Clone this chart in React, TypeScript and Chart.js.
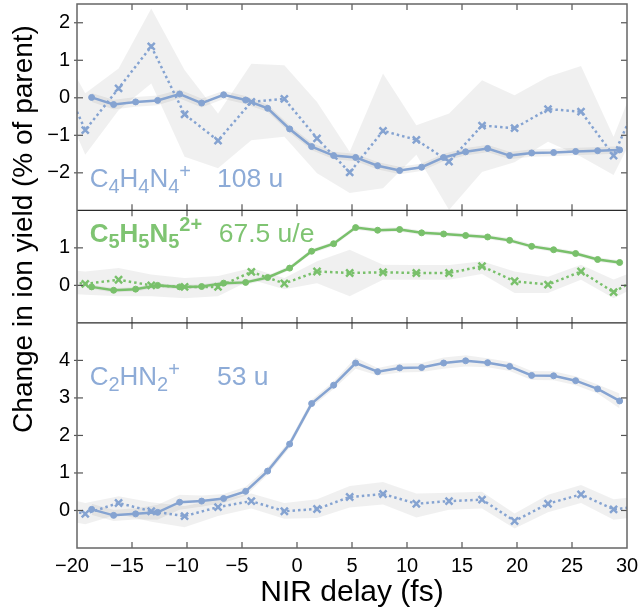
import React, { useEffect, useRef } from 'react';
import { Chart, registerables } from 'chart.js';

Chart.register(...registerables);

// ---------- data ----------
const solidDelay = [-18.67, -16.67, -14.67, -12.67, -10.67, -8.67, -6.67, -4.67, -2.67, -0.67, 1.33, 3.33, 5.33, 7.33, 9.33, 11.33, 13.33, 15.33, 17.33, 19.33, 21.33, 23.33, 25.33, 27.33, 29.33];
const crossDelay = [-22.25, -19.25, -16.22, -13.25, -10.22, -7.18, -4.15, -1.15, 1.82, 4.79, 7.82, 10.85, 13.82, 16.82, 19.78, 22.82, 25.82, 28.78, 31.78];

// C4H4N4+ 108 u
const solid108 = [0.01, -0.18, -0.11, -0.07, 0.10, -0.14, 0.08, -0.06, -0.28, -0.83, -1.30, -1.54, -1.59, -1.81, -1.94, -1.85, -1.59, -1.44, -1.35, -1.54, -1.47, -1.46, -1.43, -1.41, -1.39];
const solid108Err = [0.12, 0.13, 0.13, 0.13, 0.12, 0.12, 0.11, 0.11, 0.1, 0.1, 0.1, 0.1, 0.1, 0.1, 0.1, 0.1, 0.1, 0.1, 0.1, 0.1, 0.1, 0.1, 0.1, 0.1, 0.1];
const cross108 = [1.1, -0.86, 0.25, 1.37, -0.44, -1.14, -0.11, -0.03, -1.08, -1.99, -0.88, -1.12, -1.70, -0.74, -0.81, -0.30, -0.37, -1.54, 0.45];
const cross108Hi = [1.7, 0.12, 0.78, 2.38, 0.74, -0.42, 0.91, 0.87, -0.11, -1.44, 0.65, -0.73, -0.42, 0.47, 0.07, 0.56, 0.85, -1.04, 1.2];
const cross108Lo = [0.5, -1.52, -0.33, 0.38, -1.57, -1.88, -1.13, -1.04, -2.01, -2.54, -2.41, -1.52, -2.99, -1.98, -1.72, -1.17, -1.57, -2.06, -0.3];

// C5H5N5 2+ 67.5 u/e
const solid675 = [-0.04, -0.13, -0.10, 0.0, -0.04, -0.03, 0.06, 0.08, 0.21, 0.46, 0.91, 1.11, 1.54, 1.47, 1.49, 1.40, 1.37, 1.33, 1.29, 1.20, 1.04, 0.95, 0.85, 0.69, 0.61];
const solid675Err = [0.06, 0.06, 0.06, 0.06, 0.06, 0.06, 0.06, 0.06, 0.06, 0.06, 0.06, 0.06, 0.06, 0.06, 0.06, 0.06, 0.06, 0.06, 0.06, 0.06, 0.06, 0.06, 0.06, 0.06, 0.06];
const cross675 = [0.12, 0.04, 0.15, 0.0, -0.04, -0.04, 0.36, 0.05, 0.37, 0.33, 0.35, 0.33, 0.33, 0.51, 0.11, 0.02, 0.37, -0.18, 0.31];
const cross675Hi = [0.45, 0.37, 0.46, 0.29, 0.2, 0.25, 0.46, 0.2, 0.64, 0.95, 0.55, 0.54, 0.54, 0.64, 0.37, 0.23, 0.55, 0.16, 0.5];
const cross675Lo = [-0.2, -0.25, -0.29, -0.29, -0.34, -0.29, 0.15, -0.1, 0.06, -0.29, 0.15, 0.15, 0.15, 0.3, -0.2, -0.2, 0.15, -0.34, 0.1];

// C2HN2+ 53 u
const solid53 = [0.03, -0.13, -0.09, -0.05, 0.22, 0.25, 0.32, 0.51, 1.05, 1.77, 2.85, 3.34, 3.93, 3.70, 3.80, 3.81, 3.93, 3.99, 3.94, 3.84, 3.60, 3.59, 3.46, 3.24, 2.92];
const solid53Err = [0.15, 0.15, 0.15, 0.2, 0.2, 0.15, 0.12, 0.12, 0.1, 0.1, 0.1, 0.1, 0.15, 0.1, 0.12, 0.12, 0.15, 0.15, 0.12, 0.12, 0.12, 0.12, 0.12, 0.12, 0.2];
const cross53 = [0.11, -0.09, 0.2, -0.02, -0.15, 0.09, 0.25, -0.02, 0.04, 0.36, 0.44, 0.18, 0.25, 0.29, -0.28, 0.18, 0.43, 0.03, 0.13];
const cross53Hi = [0.4, 0.2, 0.38, 0.22, 0.12, 0.3, 0.45, 0.2, 0.3, 0.65, 0.76, 0.45, 0.47, 0.5, -0.08, 0.42, 0.68, 0.3, 0.4];
const cross53Lo = [-0.2, -0.37, -0.1, -0.3, -0.45, -0.15, 0.05, -0.22, -0.2, 0.08, 0.16, -0.19, 0.02, 0.05, -0.48, -0.05, 0.2, -0.25, -0.15];

const xTicks = [-20, -15, -10, -5, 0, 5, 10, 15, 20, 25, 30];
const topTicks = [2, 1, 0, -1, -2];
const midTicks = [1, 0];
const botTicks = [4, 3, 2, 1, 0];

const BLUE = '#85a3d1';
const BLUE_TEXT = '#8dabd7';
const GREEN = '#79c06b';
const GREEN_TEXT = '#7fc472';
const BAND = 'rgba(0,0,0,0.06)';
const FONT = '"Liberation Sans", Arial, Helvetica, sans-serif';

const pts = (xs: number[], ys: number[]) => xs.map((x, i) => ({ x, y: ys[i] }));

function lineDs(label: string, xs: number[], ys: number[], axis: string, color: string, dotted: boolean) {
  return {
    type: 'line' as const,
    label,
    data: pts(xs, ys),
    yAxisID: axis,
    borderColor: color,
    backgroundColor: color,
    borderWidth: 2.5,
    borderDash: dotted ? [2.5, 3] : [],
    pointStyle: dotted ? 'crossRot' : 'circle',
    pointRadius: dotted ? 5 : 3,
    pointBorderWidth: dotted ? 2.5 : 1,
    pointBackgroundColor: color,
    pointBorderColor: color,
    tension: 0,
    fill: false,
    clip: 0,
    order: 0,
  };
}

function bandDs(label: string, xs: number[], hi: number[], lo: number[], axis: string) {
  return [
    {
      type: 'line' as const,
      label: label + ' hi',
      data: pts(xs, hi),
      yAxisID: axis,
      borderWidth: 0,
      pointRadius: 0,
      backgroundColor: BAND,
      borderColor: 'rgba(0,0,0,0)',
      fill: '+1',
      tension: 0,
      clip: 0,
      order: 10,
    },
    {
      type: 'line' as const,
      label: label + ' lo',
      data: pts(xs, lo),
      yAxisID: axis,
      borderWidth: 0,
      pointRadius: 0,
      backgroundColor: BAND,
      borderColor: 'rgba(0,0,0,0)',
      fill: false,
      tension: 0,
      clip: 0,
      order: 10,
    },
  ];
}

type Part = { t: string; size: number; bold?: boolean; dy?: number };

function drawRich(ctx: CanvasRenderingContext2D, x: number, y: number, parts: Part[], color: string) {
  let cx = x;
  ctx.fillStyle = color;
  ctx.textAlign = 'left';
  ctx.textBaseline = 'alphabetic';
  for (const p of parts) {
    ctx.font = `${p.bold ? 'bold ' : ''}${p.size}px ${FONT}`;
    ctx.fillText(p.t, cx, y + (p.dy || 0));
    cx += ctx.measureText(p.t).width;
  }
}

const minus = (v: number) => (v < 0 ? '\u2212' + Math.abs(v) : String(v));

const framePlugin = {
  id: 'panelFrame',
  afterDraw(chart: any) {
    const { ctx, chartArea: a, scales } = chart;
    const x = scales.x;
    const panels = [
      { s: scales.yTop, ticks: topTicks },
      { s: scales.yMid, ticks: midTicks },
      { s: scales.yBot, ticks: botTicks },
    ];
    ctx.save();
    const seg = (x1: number, y1: number, x2: number, y2: number) => {
      ctx.beginPath();
      ctx.moveTo(x1, y1);
      ctx.lineTo(x2, y2);
      ctx.stroke();
    };
    // ticks
    ctx.strokeStyle = '#555';
    ctx.lineWidth = 1.2;
    for (const p of panels) {
      for (const t of xTicks) {
        if (t <= -20 || t >= 30) continue;
        const px = x.getPixelForValue(t);
        seg(px, p.s.top, px, p.s.top + 6);
        seg(px, p.s.bottom, px, p.s.bottom - 6);
      }
      for (const v of p.ticks) {
        const py = p.s.getPixelForValue(v);
        seg(a.left - 3, py, a.left + 6, py);
        seg(a.right - 6, py, a.right, py);
      }
    }
    // separators
    ctx.strokeStyle = '#2a2a2a';
    ctx.lineWidth = 1.3;
    seg(a.left, scales.yMid.top, a.right, scales.yMid.top);
    seg(a.left, scales.yBot.top, a.right, scales.yBot.top);
    // outer frame
    ctx.strokeStyle = '#666';
    ctx.lineWidth = 1.5;
    ctx.strokeRect(a.left, a.top, a.right - a.left, a.bottom - a.top);

    // panel labels
    const lx = x.getPixelForValue(-18.85);
    const nx = x.getPixelForValue(-7.27);
    const yTopLbl = scales.yTop.getPixelForValue(-2.37);
    drawRich(ctx, lx, yTopLbl, [
      { t: 'C', size: 26 }, { t: '4', size: 20, dy: 6 },
      { t: 'H', size: 26 }, { t: '4', size: 20, dy: 6 },
      { t: 'N', size: 26 }, { t: '4', size: 20, dy: 6 },
      { t: '+', size: 20, dy: -9 },
    ], BLUE_TEXT);
    drawRich(ctx, nx, yTopLbl, [{ t: '108 u', size: 26.5 }], BLUE_TEXT);

    const yMidLbl = scales.yMid.getPixelForValue(1.15);
    drawRich(ctx, lx, yMidLbl, [
      { t: 'C', size: 26, bold: true }, { t: '5', size: 20, bold: true, dy: 6 },
      { t: 'H', size: 26, bold: true }, { t: '5', size: 20, bold: true, dy: 6 },
      { t: 'N', size: 26, bold: true }, { t: '5', size: 20, bold: true, dy: 6 },
      { t: '2+', size: 20, bold: true, dy: -11 },
    ], GREEN_TEXT);
    drawRich(ctx, x.getPixelForValue(-7.12), yMidLbl, [{ t: '67.5 u/e', size: 26.5 }], GREEN_TEXT);

    const yBotLbl = scales.yBot.getPixelForValue(3.35);
    drawRich(ctx, lx, yBotLbl, [
      { t: 'C', size: 26 }, { t: '2', size: 20, dy: 6 },
      { t: 'HN', size: 26 }, { t: '2', size: 20, dy: 6 },
      { t: '+', size: 20, dy: -9 },
    ], BLUE_TEXT);
    drawRich(ctx, nx, yBotLbl, [{ t: '53 u', size: 26.5 }], BLUE_TEXT);

    // y axis title
    ctx.save();
    ctx.translate(31.7, 229);
    ctx.rotate(-Math.PI / 2);
    ctx.font = `28px ${FONT}`;
    ctx.fillStyle = '#000';
    ctx.textAlign = 'center';
    ctx.textBaseline = 'alphabetic';
    ctx.fillText('Change in ion yield (% of parent)', 0, 0);
    ctx.restore();

    ctx.restore();
  },
};

function yScale(min: number, max: number, weight: number, stackWeight: number, list: number[]) {
  return {
    type: 'linear' as const,
    position: 'left' as const,
    stack: 'ions',
    stackWeight,
    weight,
    min,
    max,
    grid: { display: false, drawTicks: false },
    border: { display: false },
    ticks: {
      font: { size: 20, family: FONT },
      color: '#000',
      padding: 7,
      autoSkip: false,
      callback: (v: any) => minus(Number(v)),
    },
    afterBuildTicks: (axis: any) => {
      axis.ticks = list.map((v) => ({ value: v }));
    },
    afterFit: (s: any) => {
      s.width = 77;
      s.paddingTop = 0;
      s.paddingBottom = 0;
    },
  };
}

export default function App() {
  const ref = useRef<HTMLCanvasElement | null>(null);

  useEffect(() => {
    if (!ref.current) return;
    const datasets: any[] = [
      lineDs('108 u solid', solidDelay, solid108, 'yTop', BLUE, false),
      lineDs('108 u cross', crossDelay, cross108, 'yTop', BLUE, true),
      lineDs('67.5 u/e solid', solidDelay, solid675, 'yMid', GREEN, false),
      lineDs('67.5 u/e cross', crossDelay, cross675, 'yMid', GREEN, true),
      lineDs('53 u solid', solidDelay, solid53, 'yBot', BLUE, false),
      lineDs('53 u cross', crossDelay, cross53, 'yBot', BLUE, true),
      ...bandDs('108 cross band', crossDelay, cross108Hi, cross108Lo, 'yTop'),
      ...bandDs('108 solid band', solidDelay, solid108.map((v, i) => v + solid108Err[i]), solid108.map((v, i) => v - solid108Err[i]), 'yTop'),
      ...bandDs('67.5 cross band', crossDelay, cross675Hi, cross675Lo, 'yMid'),
      ...bandDs('67.5 solid band', solidDelay, solid675.map((v, i) => v + solid675Err[i]), solid675.map((v, i) => v - solid675Err[i]), 'yMid'),
      ...bandDs('53 cross band', crossDelay, cross53Hi, cross53Lo, 'yBot'),
      ...bandDs('53 solid band', solidDelay, solid53.map((v, i) => v + solid53Err[i]), solid53.map((v, i) => v - solid53Err[i]), 'yBot'),
    ];

    const chart = new Chart(ref.current, {
      type: 'line',
      data: { datasets },
      options: {
        responsive: false,
        animation: false,
        events: [],
        layout: { padding: { top: 4, right: 13, left: 0, bottom: 0 }, autoPadding: false },
        plugins: { legend: { display: false }, tooltip: { enabled: false } },
        scales: {
          x: {
            type: 'linear',
            position: 'bottom',
            min: -20,
            max: 30,
            grid: { display: false, drawTicks: false },
            border: { display: false },
            ticks: {
              stepSize: 5,
              autoSkip: false,
              maxRotation: 0,
              font: { size: 20, family: FONT },
              color: '#000',
              padding: 6,
              callback: (v: any) => (Number(v) < 0 ? minus(Number(v)) + '\u2002' : String(v)),
            },
            afterBuildTicks: (axis: any) => {
              axis.ticks = xTicks.map((v) => ({ value: v }));
            },
            title: {
              display: true,
              text: 'NIR delay (fs)',
              font: { size: 30, family: FONT },
              color: '#000',
              padding: 0,
            },
            afterFit: (s: any) => {
              s.height = 63;
              s.paddingLeft = 0;
              s.paddingRight = 0;
            },
          },
          yBot: yScale(-1, 5, 1, 6, botTicks),
          yMid: yScale(-1, 2, 2, 3, midTicks),
          yTop: yScale(-3, 2.5, 3, 5.5, topTicks),
        } as any,
      },
      plugins: [framePlugin],
    } as any);

    return () => chart.destroy();
  }, []);

  return (
    <div style={{ position: 'absolute', left: 0, top: 0, width: 640, height: 611, background: '#fff' }}>
      <canvas ref={ref} width={640} height={611} style={{ display: 'block' }} />
    </div>
  );
}
